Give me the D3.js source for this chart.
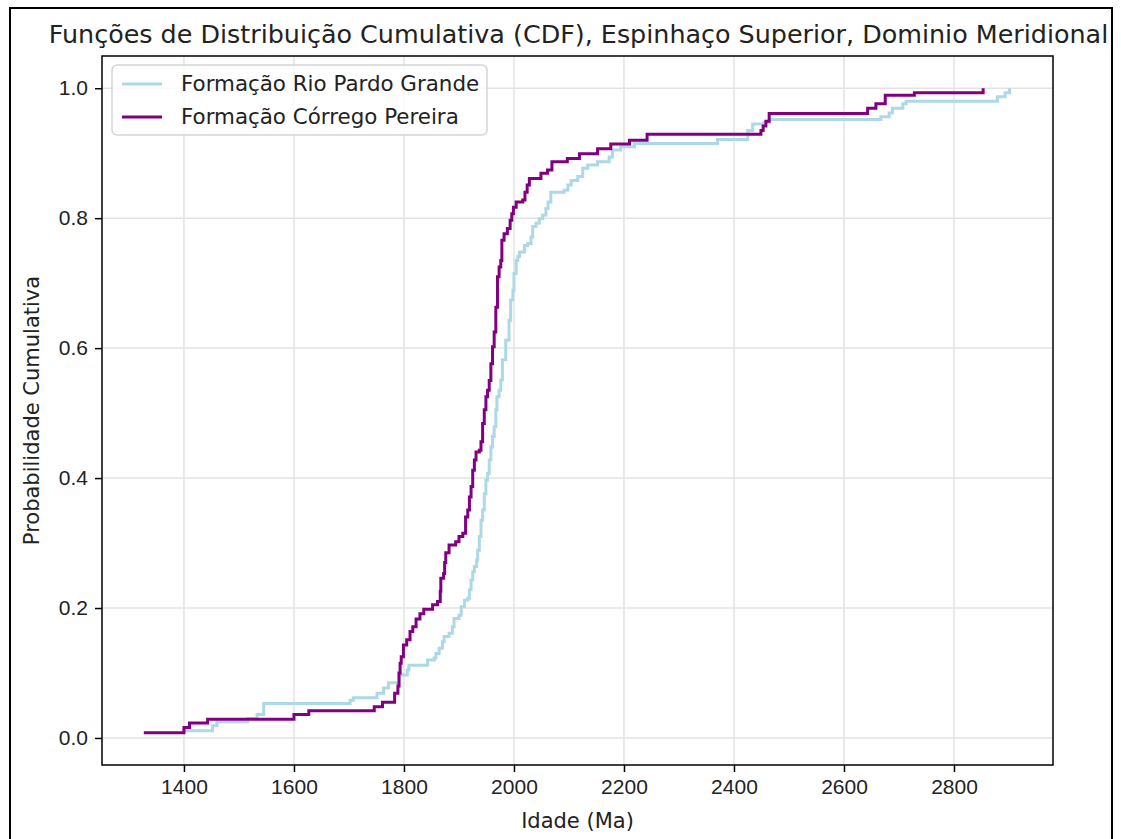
<!DOCTYPE html>
<html lang="pt">
<head>
<meta charset="UTF-8">
<title>CDF Espinhaço Superior</title>
<script src="https://d3js.org/d3.v7.min.js"></script>
<style>
body { margin: 0; background: #fff; }
svg { font-family: "DejaVu Sans", sans-serif; }
.axis path, .axis line { stroke: #000; stroke-width: 1.5px; }
.axis text { font-size: 21px; fill: #222; }
.grid line { stroke: #e3e3e3; stroke-width: 1.5px; }
</style>
</head>
<body>
<div id="chart"></div>
<script>
// dados (idade em Ma, probabilidade cumulativa)
var cpAge = [1327, 1400, 1410, 1443, 1600, 1627, 1746, 1761, 1783, 1789, 1791, 1793, 1795, 1799,
  1805, 1811, 1816, 1822, 1829, 1836, 1852, 1861, 1866, 1867, 1872, 1874, 1876, 1882, 1894, 1900,
  1907, 1912, 1916, 1919, 1922, 1925, 1928, 1931, 1937, 1940, 1943, 1946, 1949, 1952, 1955, 1958,
  1961, 1964, 1967, 1970, 1973, 1976, 1978, 1982, 1988, 1993, 1996, 1999, 2004, 2016, 2020, 2024,
  2028, 2049, 2061, 2069, 2097, 2119, 2152, 2176, 2210, 2242, 2449, 2453, 2458, 2464, 2643, 2658,
  2675, 2728, 2853];
var cpProb = [0.008, 0.016, 0.023, 0.029, 0.036, 0.042, 0.048, 0.055, 0.069, 0.08, 0.1, 0.115, 0.125, 0.143,
  0.151, 0.164, 0.171, 0.183, 0.191, 0.198, 0.205, 0.21, 0.226, 0.246, 0.253, 0.27, 0.285, 0.297, 0.302, 0.31,
  0.315, 0.34, 0.351, 0.371, 0.387, 0.412, 0.428, 0.44, 0.443, 0.456, 0.484, 0.505, 0.525, 0.535, 0.55, 0.576,
  0.602, 0.625, 0.663, 0.71, 0.725, 0.735, 0.766, 0.776, 0.784, 0.797, 0.807, 0.817, 0.825, 0.828, 0.84, 0.851,
  0.861, 0.869, 0.874, 0.887, 0.892, 0.899, 0.907, 0.914, 0.92, 0.929, 0.935, 0.942, 0.949, 0.961, 0.969, 0.976,
  0.989, 0.993, 1.0];

var rpgAge = [1400, 1452, 1460, 1516, 1533, 1545, 1702, 1708, 1751, 1763, 1772, 1791, 1806, 1809, 1843,
  1855, 1858, 1864, 1870, 1873, 1882, 1888, 1891, 1900, 1904, 1910, 1916, 1919, 1922, 1925, 1928, 1932,
  1934, 1937, 1940, 1943, 1946, 1949, 1952, 1955, 1958, 1961, 1964, 1967, 1969, 1973, 1976, 1979, 1985,
  1991, 1994, 1998, 2000, 2004, 2007, 2010, 2019, 2025, 2031, 2034, 2040, 2046, 2052, 2058, 2062, 2067,
  2091, 2098, 2104, 2116, 2125, 2134, 2152, 2173, 2179, 2194, 2219, 2370, 2425, 2434, 2455, 2464, 2667,
  2682, 2688, 2707, 2713, 2879, 2893, 2901];
var rpgProb = [0.011, 0.019, 0.025, 0.030, 0.036, 0.053, 0.058, 0.062, 0.069, 0.077, 0.085, 0.097, 0.105, 0.112, 0.12,
  0.123, 0.13, 0.138, 0.148, 0.156, 0.161, 0.171, 0.184, 0.189, 0.202, 0.212, 0.215, 0.228, 0.243, 0.256, 0.264, 0.274,
  0.289, 0.31, 0.335, 0.351, 0.376, 0.397, 0.407, 0.428, 0.448, 0.464, 0.479, 0.505, 0.525, 0.535, 0.551, 0.582, 0.612,
  0.643, 0.674, 0.689, 0.715, 0.735, 0.741, 0.748, 0.758, 0.761, 0.771, 0.787, 0.792, 0.799, 0.805, 0.815, 0.825, 0.84,
  0.843, 0.851, 0.858, 0.864, 0.877, 0.882, 0.887, 0.894, 0.905, 0.91, 0.915, 0.921, 0.935, 0.945, 0.947, 0.952, 0.956,
  0.962, 0.969, 0.976, 0.98, 0.987, 0.993, 1.0];

var seriesNames = ["Formação Rio Pardo Grande", "Formação Córrego Pereira"];
var seriesColors = ["lightblue", "purple"];
var xTicks = [1400, 1600, 1800, 2000, 2200, 2400, 2600, 2800];
var yTicks = [0.0, 0.2, 0.4, 0.6, 0.8, 1.0];

var width = 1121, height = 839;
var plot = {left: 102, right: 1053, top: 56, bottom: 765};

var svg = d3.select("#chart").append("svg")
  .attr("width", width)
  .attr("height", height);

// moldura da figura
svg.append("rect")
  .attr("x", 10).attr("y", 8)
  .attr("width", 1102).attr("height", 850)
  .attr("fill", "none").attr("stroke", "#000").attr("stroke-width", 2);

var xScale = d3.scaleLinear().domain([1251, 2980]).range([plot.left, plot.right]);
var yScale = d3.scaleLinear().domain([-0.0416, 1.0496]).range([plot.bottom, plot.top]);

// grade
var grid = svg.append("g").attr("class", "grid");
grid.selectAll("line.gx").data(xTicks).enter().append("line")
  .attr("x1", function(d){ return xScale(d); }).attr("x2", function(d){ return xScale(d); })
  .attr("y1", plot.top).attr("y2", plot.bottom);
grid.selectAll("line.gy").data(yTicks).enter().append("line")
  .attr("y1", function(d){ return yScale(d); }).attr("y2", function(d){ return yScale(d); })
  .attr("x1", plot.left).attr("x2", plot.right);

var series = [
  {name: seriesNames[0], color: seriesColors[0], pts: d3.zip(rpgAge, rpgProb)},
  {name: seriesNames[1], color: seriesColors[1], pts: d3.zip(cpAge, cpProb)}
];

var line = d3.line()
  .x(function(d){ return xScale(d[0]); })
  .y(function(d){ return yScale(d[1]); })
  .curve(d3.curveStepAfter);

svg.selectAll("path.cdf").data(series).enter().append("path")
  .attr("class", "cdf")
  .attr("d", function(d){ return line(d.pts); })
  .attr("fill", "none")
  .attr("stroke", function(d){ return d.color; })
  .attr("stroke-width", 3);

// eixos
var xAxis = d3.axisBottom(xScale).tickValues(xTicks).tickSize(7).tickPadding(7).tickFormat(d3.format("d"));
var yAxis = d3.axisLeft(yScale).tickValues(yTicks).tickSize(7).tickPadding(7).tickFormat(d3.format(".1f"));

svg.append("g").attr("class", "axis")
  .attr("transform", "translate(0," + plot.bottom + ")")
  .call(xAxis)
  .call(function(g){ g.select(".domain").remove(); });
svg.append("g").attr("class", "axis")
  .attr("transform", "translate(" + plot.left + ",0)")
  .call(yAxis)
  .call(function(g){ g.select(".domain").remove(); });

svg.append("rect")
  .attr("x", plot.left).attr("y", plot.top)
  .attr("width", plot.right - plot.left).attr("height", plot.bottom - plot.top)
  .attr("fill", "none").attr("stroke", "#000").attr("stroke-width", 1.5);

svg.append("text")
  .attr("x", (plot.left + plot.right) / 2 + 1).attr("y", 43)
  .attr("text-anchor", "middle")
  .style("font-size", "25.4px").style("fill", "#222")
  .text("Funções de Distribuição Cumulativa (CDF), Espinhaço Superior, Dominio Meridional");

svg.append("text")
  .attr("x", (plot.left + plot.right) / 2).attr("y", 828)
  .attr("text-anchor", "middle")
  .style("font-size", "21px").style("fill", "#222")
  .text("Idade (Ma)");

svg.append("text")
  .attr("transform", "translate(39," + ((plot.top + plot.bottom) / 2) + ") rotate(-90)")
  .attr("text-anchor", "middle")
  .style("font-size", "21px").style("fill", "#222")
  .text("Probabilidade Cumulativa");

// legenda
var legend = svg.append("g").attr("transform", "translate(112,65)");
legend.append("rect")
  .attr("width", 375).attr("height", 70).attr("rx", 5)
  .attr("fill", "#fff").attr("fill-opacity", 0.8)
  .attr("stroke", "#d5d5d5").attr("stroke-width", 1.5);
var items = legend.selectAll("g.item").data(series).enter().append("g")
  .attr("transform", function(d, i){ return "translate(0," + (19 + i * 33) + ")"; });
items.append("line")
  .attr("x1", 10).attr("x2", 50)
  .attr("stroke", function(d){ return d.color; }).attr("stroke-width", 3);
items.append("text")
  .attr("x", 69).attr("y", 7)
  .style("font-size", "21.4px").style("fill", "#222")
  .text(function(d){ return d.name; });
</script>
</body>
</html>
